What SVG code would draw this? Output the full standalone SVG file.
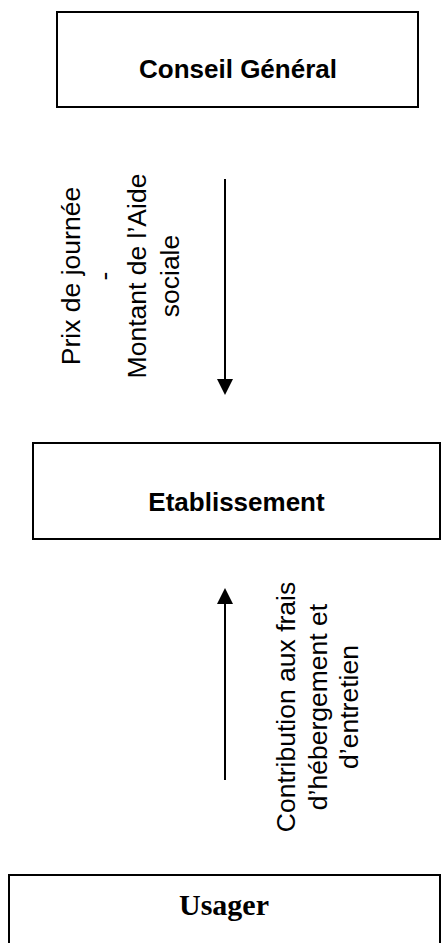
<svg xmlns="http://www.w3.org/2000/svg" width="441" height="943" viewBox="0 0 441 943">
  <style>
    .box { fill: #ffffff; stroke: #000000; stroke-width: 2; }
    .title { font-family: "Liberation Sans", Arial, sans-serif; font-weight: bold; font-size: 26px; fill: #000; text-anchor: middle; }
    .serif { font-family: "Liberation Serif", "Times New Roman", serif; font-weight: bold; font-size: 30px; fill: #000; text-anchor: middle; }
    .lbl { font-family: "Liberation Sans", Arial, sans-serif; font-size: 26.5px; fill: #000; text-anchor: middle; }
    .conn { stroke: #000; stroke-width: 2; fill: none; }
  </style>
  <defs>
    <marker id="arrow" markerUnits="userSpaceOnUse" markerWidth="16" markerHeight="16" refX="0" refY="8" orient="auto" viewBox="0 0 16 16">
      <path d="M0,0 L16,8 L0,16 z" fill="#000"/>
    </marker>
  </defs>
  <rect width="441" height="943" fill="#ffffff"/>

  <g id="conseil-general">
    <rect class="box" x="57" y="12" width="361" height="95"/>
    <text class="title" x="238" y="78">Conseil Général</text>
  </g>

  <g id="etablissement">
    <rect class="box" x="33" y="443" width="407" height="96"/>
    <text class="title" x="236.5" y="511">Etablissement</text>
  </g>

  <g id="usager">
    <rect class="box" x="9" y="875" width="431" height="100"/>
    <text class="serif" x="224" y="915">Usager</text>
  </g>

  <g id="connectors">
    <line class="conn" x1="225" y1="179" x2="225" y2="379" marker-end="url(#arrow)"/>
    <line class="conn" x1="225" y1="780" x2="225" y2="604" marker-end="url(#arrow)"/>
  </g>

  <g id="label-prix">
    <text class="lbl" transform="translate(80,276) rotate(-90)">Prix de journée</text>
    <text class="lbl" transform="translate(113,276) rotate(-90)">-</text>
    <text class="lbl" transform="translate(146,276) rotate(-90)">Montant de l’Aide</text>
    <text class="lbl" transform="translate(179,276) rotate(-90)">sociale</text>
  </g>

  <g id="label-contribution">
    <text class="lbl" transform="translate(295,707) rotate(-90)">Contribution aux frais</text>
    <text class="lbl" transform="translate(327,707) rotate(-90)">d’hébergement et</text>
    <text class="lbl" transform="translate(358,707) rotate(-90)">d’entretien</text>
  </g>
</svg>
